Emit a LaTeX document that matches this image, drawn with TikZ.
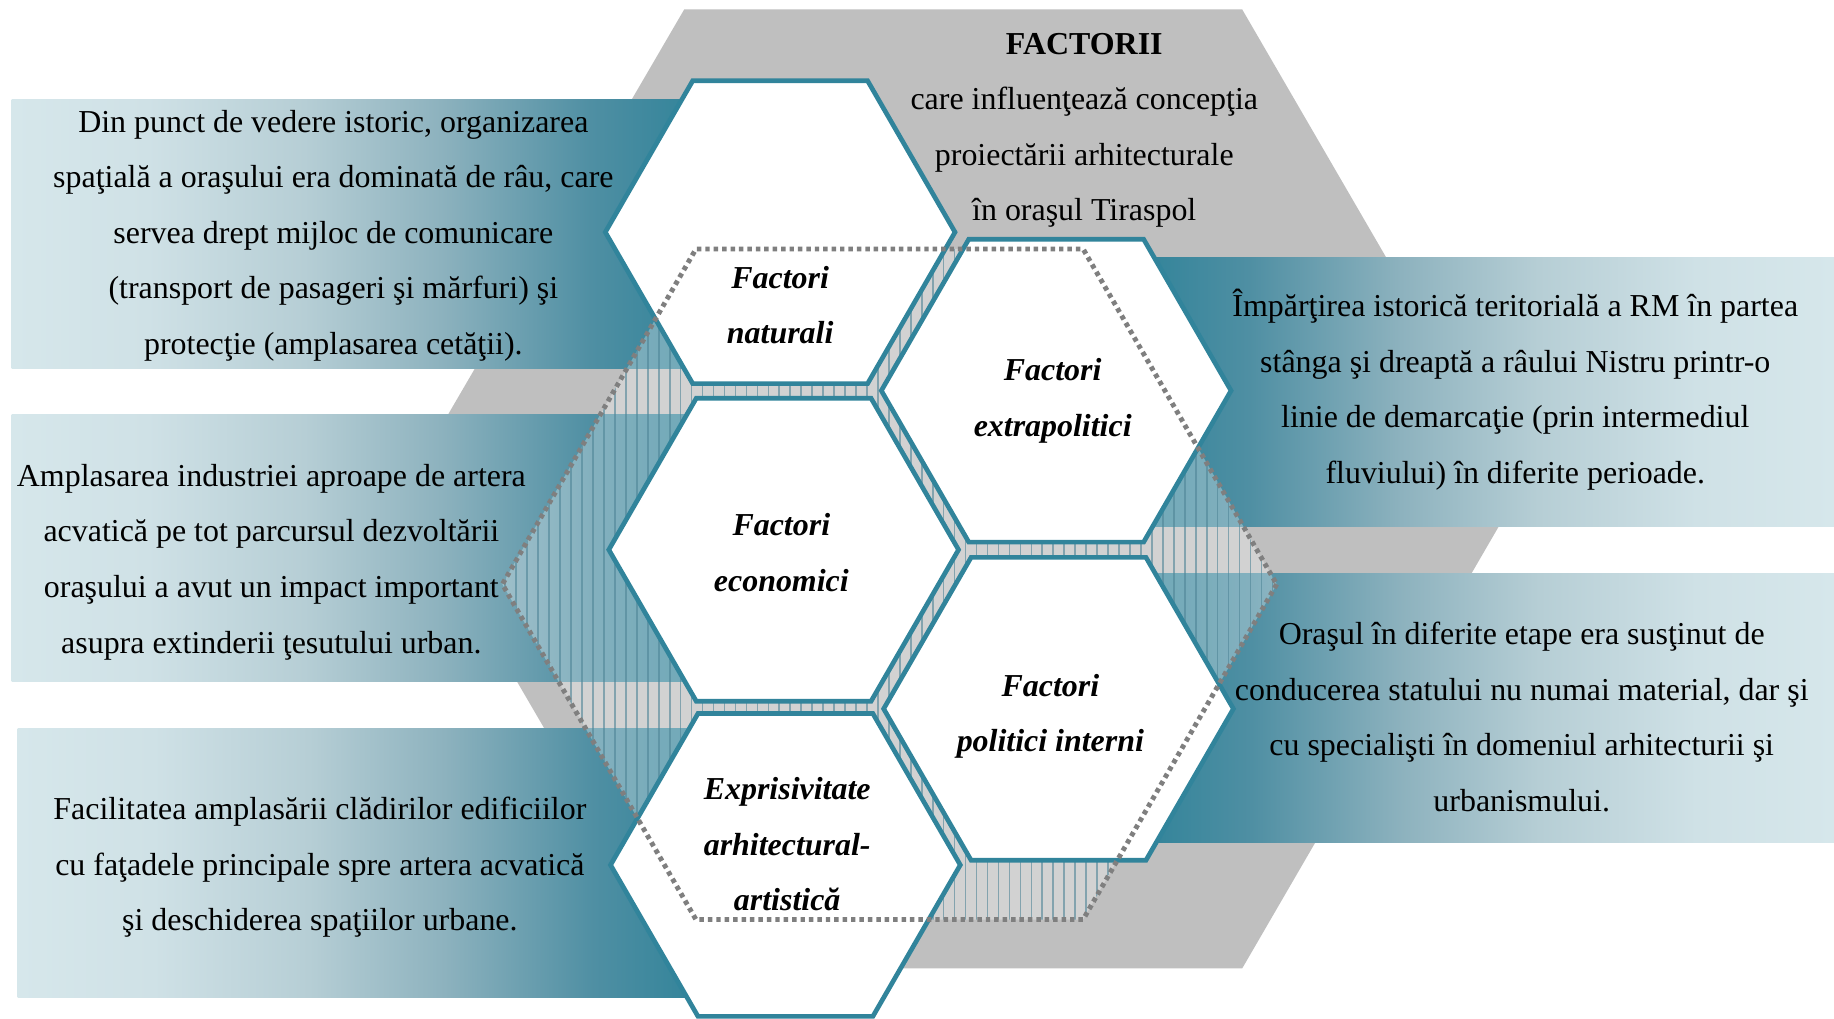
\documentclass[tikz,border=0pt]{standalone}
\usepackage{fontspec}
\setmainfont{Liberation Serif}
\definecolor{bgGrey}{HTML}{BFBFBF}
\definecolor{hexTeal}{HTML}{31849B}
\definecolor{dotGrey}{HTML}{7F7F7F}
\definecolor{stripeC}{HTML}{4F8597}
\definecolor{gA}{HTML}{D6E7EB}
\definecolor{gB}{HTML}{CFE1E6}
\definecolor{gC}{HTML}{B6CED5}
\definecolor{gD}{HTML}{8DB2BE}
\definecolor{gE}{HTML}{4F8FA3}
\definecolor{gF}{HTML}{33849A}
\pgfdeclarehorizontalshading{gradL}{100bp}{color(0bp)=(gA); color(25bp)=(gA); color(35bp)=(gB); color(46.5bp)=(gC); color(56.5bp)=(gD); color(67.5bp)=(gE); color(75bp)=(gF); color(100bp)=(gF)}
\pgfdeclarehorizontalshading{gradR}{100bp}{color(0bp)=(gF); color(25bp)=(gF); color(32.5bp)=(gE); color(43.5bp)=(gD); color(53.5bp)=(gC); color(65bp)=(gB); color(75bp)=(gA); color(100bp)=(gA)}
\begin{document}
\begin{tikzpicture}[x=1pt,y=-1pt,
  hexline/.style={draw=hexTeal, line width=4pt, fill=white, line join=miter},
  dotline/.style={draw=dotGrey, line width=4.2pt, dash pattern=on 3.8pt off 3.4pt},
  stripe/.style={draw=stripeC, line width=1.4pt, draw opacity=0.6},
  txt/.style={font=\fontsize{27.3}{47.5}\selectfont, align=center, inner sep=0pt, text=black},
  hlab/.style={font=\fontsize{27.3}{47.5}\selectfont\bfseries\itshape, align=center, inner sep=0pt, text=black}]
\useasboundingbox (0,0) rectangle (1568,871);

% big grey hexagon
\fill[bgGrey] (585,8) -- (1062,8) -- (1300,418) -- (1062,828) -- (585,828) -- (346,418) -- cycle;

% gradient boxes
\shade[shading=gradL] (10,85) rectangle (592,315);
\shade[shading=gradL] (10,354) rectangle (592,583);
\shade[shading=gradL] (15,623) rectangle (594,853);
\shade[shading=gradR] (980,220) rectangle (1568,450);
\shade[shading=gradR] (982,490) rectangle (1568,720);

% striped fill of the dotted hexagon
\begin{scope}
  \clip[shift={(760.5,499.5)}] (0:331) -- (60:331) -- (120:331) -- (180:331) -- (240:331) -- (300:331) -- cycle;
  \fill[white, fill opacity=0.3] (420,200) rectangle (1100,800);
  \foreach \i in {0,...,71} \draw[stripe] ({432+\i*9.37},200) -- ({432+\i*9.37},800);
\end{scope}

% white hexagons
\foreach \cx/\cy in {667/198.5, 670/470, 671.5/739.5, 903/334, 905/606}
  \draw[hexline, shift={(\cx,\cy)}] (0:149.5) -- (60:149.5) -- (120:149.5) -- (180:149.5) -- (240:149.5) -- (300:149.5) -- cycle;

% dotted outline
\draw[dotline, shift={(760.5,499.5)}] (0:331) -- (60:331) -- (120:331) -- (180:331) -- (240:331) -- (300:331) -- cycle;

% title
\node[txt] (title) at (927,111.5) {\textbf{FACTORII}\\care influenţează concepţia\\proiectării arhitecturale\\în oraşul Tiraspol};

% hexagon labels
\node[hlab] (hNat) at (667,261) {Factori\\naturali};
\node[hlab] (hExt) at (900,342.5) {Factori\\extrapolitici};
\node[hlab] (hEco) at (668,472.5) {Factori\\economici};
\node[hlab] (hPol) at (898,612.5) {Factori\\politici interni};
\node[hlab] (hExp) at (673,722) {Exprisivitate\\arhitectural-\\artistică};

% box texts
\node[txt] (bx1) at (285,201.5) {Din punct de vedere istoric, organizarea\\spaţială a oraşului era dominată de râu, care\\servea drept mijloc de comunicare\\(transport de pasageri şi mărfuri) şi\\protecţie (amplasarea cetăţii).};
\node[txt] (bx2) at (232,480.5) {Amplasarea industriei aproape de artera\\acvatică pe tot parcursul dezvoltării\\oraşului a avut un impact important\\asupra extinderii ţesutului urban.};
\node[txt] (bx3) at (273.5,741.5) {Facilitatea amplasării clădirilor edificiilor\\cu faţadele principale spre artera acvatică\\şi deschiderea spaţiilor urbane.};
\node[txt] (bx4) at (1295.5,333) {Împărţirea istorică teritorială a RM în partea\\stânga şi dreaptă a râului Nistru printr-o\\linie de demarcaţie (prin intermediul\\fluviului) în diferite perioade.};
\node[txt] (bx5) at (1301,613) {Oraşul în diferite etape era susţinut de\\conducerea statului nu numai material, dar şi\\cu specialişti în domeniul arhitecturii şi\\urbanismului.};
\end{tikzpicture}
\end{document}
